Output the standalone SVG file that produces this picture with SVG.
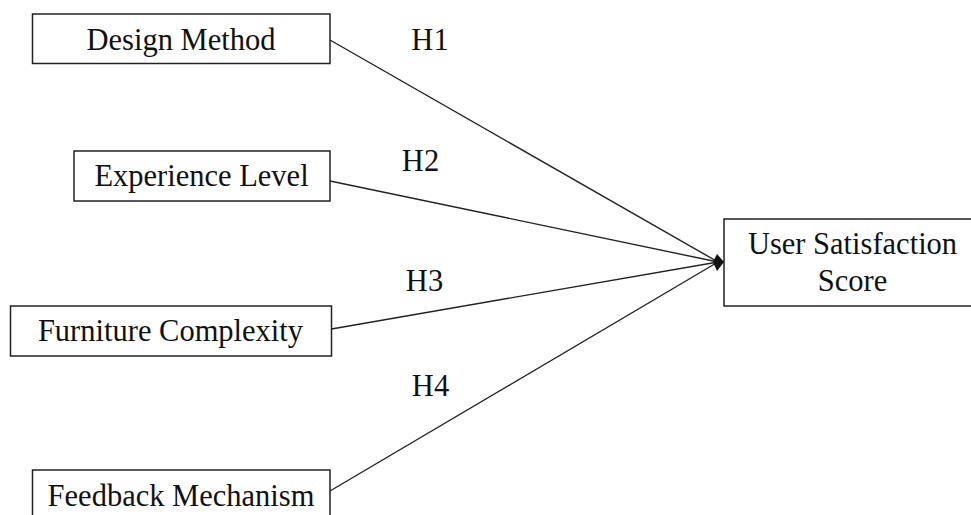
<svg xmlns="http://www.w3.org/2000/svg" width="971" height="515" viewBox="0 0 971 515">
<style>
.box{fill:#fff;stroke:#222;stroke-width:1.5}
.t{font-family:"Liberation Serif","Times New Roman",serif;font-size:30.5px;fill:#111;text-anchor:middle}
.c{stroke:#222;stroke-width:1.4;fill:none}
</style>
<rect width="971" height="515" fill="#fff"/>
<g id="n-design"><rect class="box" x="32.5" y="14" width="297.5" height="49.5"/><text class="t" x="181" y="49.5">Design Method</text></g>
<g id="n-experience"><rect class="box" x="74" y="151" width="256" height="50"/><text class="t" x="201.5" y="185.5">Experience Level</text></g>
<g id="n-furniture"><rect class="box" x="10.5" y="306" width="321" height="50"/><text class="t" x="170.5" y="340.5">Furniture Complexity</text></g>
<g id="n-feedback"><rect class="box" x="32.5" y="470" width="297.5" height="60"/><text class="t" x="181" y="505.5">Feedback Mechanism</text></g>
<g id="n-user"><rect class="box" x="724" y="219" width="260" height="87"/><text class="t" x="852.5" y="254">User Satisfaction</text><text class="t" x="852.5" y="290.5">Score</text></g>
<g id="connectors">
<line class="c" x1="330" y1="40" x2="718" y2="262"/>
<line class="c" x1="330" y1="181" x2="718" y2="262"/>
<line class="c" x1="331.5" y1="329" x2="718" y2="262"/>
<line class="c" x1="330" y1="491" x2="718" y2="262"/>
<path d="M724,262 L717,254 L713,262 L717,271 Z" fill="#111"/>
<text class="t" x="430" y="49.5">H1</text>
<text class="t" x="420.5" y="170.5">H2</text>
<text class="t" x="424.5" y="290.5">H3</text>
<text class="t" x="430.5" y="395.5">H4</text>
</g>
</svg>
